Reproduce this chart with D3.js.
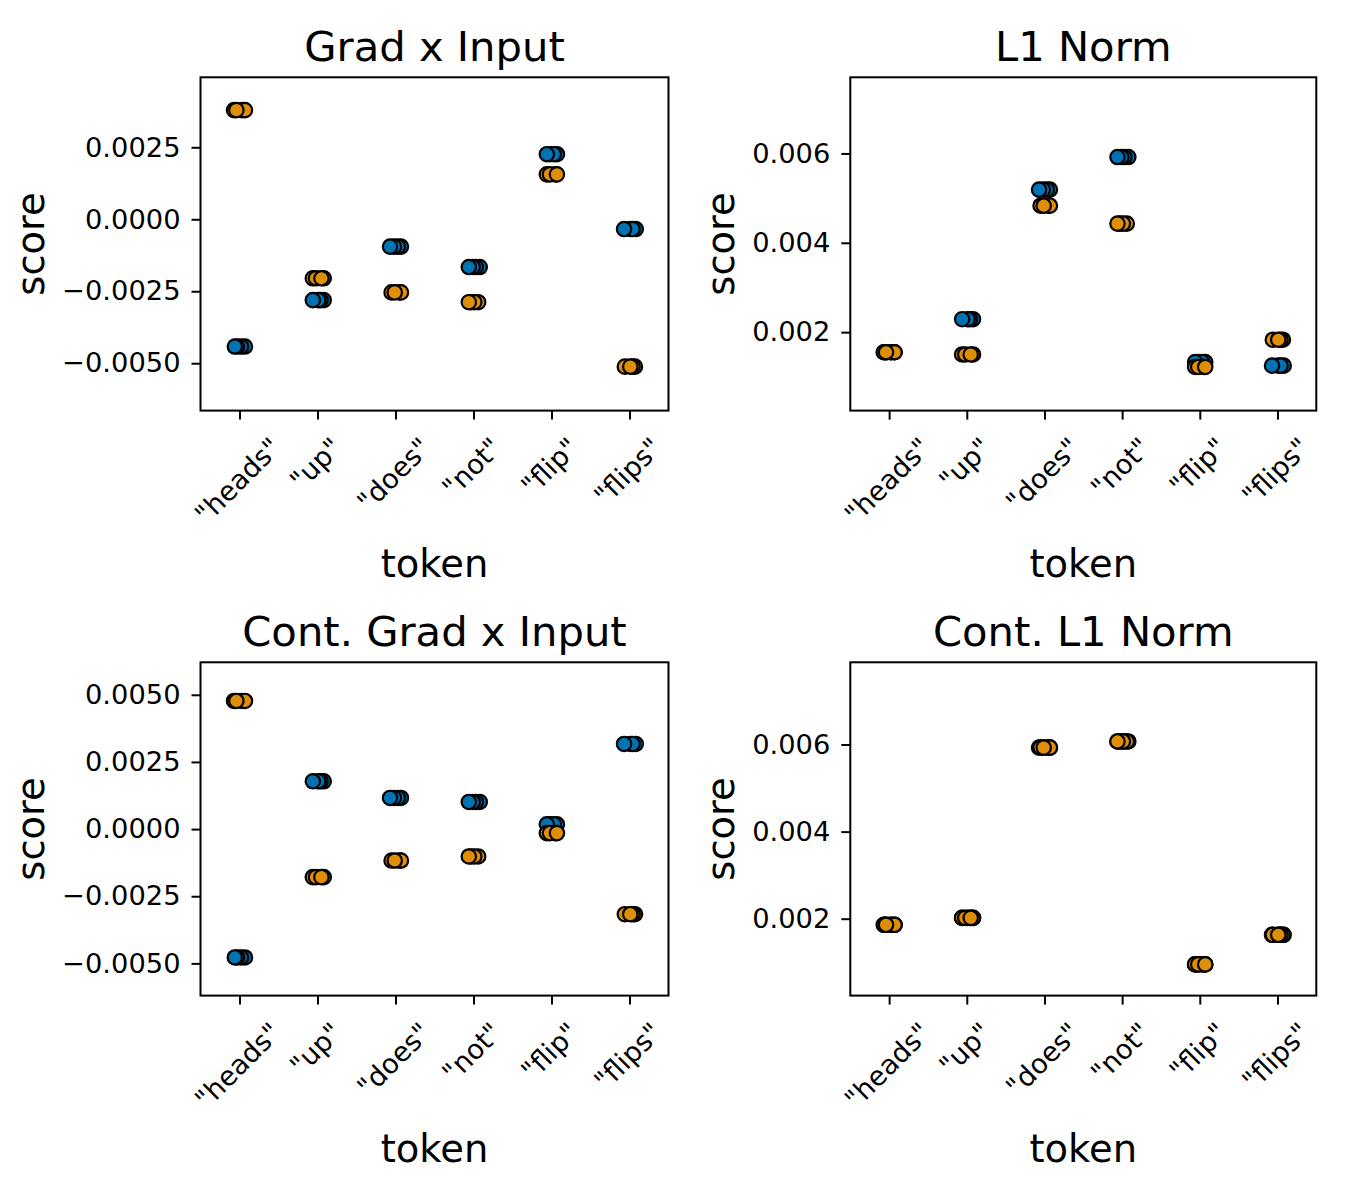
<!DOCTYPE html>
<html>
<head>
<meta charset="utf-8">
<script src="https://cdn.jsdelivr.net/npm/d3@7"></script>
<style>
  html, body { margin: 0; padding: 0; background: #fff; }
  svg { display: block; font-family: "DejaVu Sans", sans-serif; }
</style>
</head>
<body>
<svg id="chart" width="1350" height="1200"></svg>
<script>
// ---- data ----
const TOKENS = ['"heads"', '"up"', '"does"', '"not"', '"flip"', '"flips"'];

const GRAD_INPUT_BLUE = [-0.00442, -0.00281, -0.00095, -0.00166, 0.00226, -0.00034];
const GRAD_INPUT_ORANGE = [0.00379, -0.00205, -0.00254, -0.00288, 0.00156, -0.00512];
const GRAD_INPUT_YLIM = [-0.006646, 0.004931];
const GRAD_INPUT_TICKS = [-0.005, -0.0025, 0, 0.0025];

const L1_BLUE = [0.00155, 0.00229, 0.00519, 0.00592, 0.00133, 0.00125];
const L1_ORANGE = [0.00155, 0.00150, 0.00483, 0.00443, 0.00122, 0.00183];
const L1_YLIM = [0.000244, 0.007704];
const L1_TICKS = [0.002, 0.004, 0.006];

const CONT_GRAD_BLUE = [-0.00478, 0.00178, 0.00116, 0.00101, 0.00018, 0.00317];
const CONT_GRAD_ORANGE = [0.00477, -0.00179, -0.00117, -0.00102, -0.00015, -0.00317];
const CONT_GRAD_YLIM = [-0.0062, 0.00621];
const CONT_GRAD_TICKS = [-0.005, -0.0025, 0, 0.0025, 0.005];

const CONT_L1_BLUE = [0.00186, 0.00202, 0.00593, 0.00607, 0.00095, 0.00163];
const CONT_L1_ORANGE = [0.00186, 0.00202, 0.00593, 0.00607, 0.00095, 0.00163];
const CONT_L1_YLIM = [0.000234, 0.007888];
const CONT_L1_TICKS = [0.002, 0.004, 0.006];

// horizontal strip jitter per run, in category units
const JITTER_BLUE = [
  [0.07, 0.02, -0.03, -0.06],
  [0.08, 0.04, 0.01, -0.06],
  [0.07, 0.03, -0.02, -0.07],
  [0.08, 0.03, -0.01, -0.06],
  [0.07, -0.02, 0.03, -0.06],
  [0.08, 0.01, 0.04, -0.07],
];
const JITTER_ORANGE = [
  [-0.07, 0.03, 0.07, -0.04],
  [-0.06, -0.02, 0.08, 0.05],
  [0.05, 0.07, -0.05, -0.01],
  [0.06, -0.03, 0.01, -0.06],
  [-0.06, 0.05, -0.02, 0.07],
  [0.07, -0.06, 0.04, 0.01],
];

// ---- styling / layout ----
const BLUE = "#0173b2";
const ORANGE = "#de8f05";
const TICK_FONT = 27.3;
const LABEL_FONT = 38.5;
const TITLE_FONT = 41.7;

const panels = [
  { title: "Grad x Input", blue: GRAD_INPUT_BLUE, orange: GRAD_INPUT_ORANGE,
    ylim: GRAD_INPUT_YLIM, ticks: GRAD_INPUT_TICKS, fmt: d3.format(".4f"),
    x: 200.5, y: 77.3, w: 468, h: 333.3 },
  { title: "L1 Norm", blue: L1_BLUE, orange: L1_ORANGE,
    ylim: L1_YLIM, ticks: L1_TICKS, fmt: d3.format(".3f"),
    x: 850.3, y: 77.3, w: 466, h: 333.3 },
  { title: "Cont. Grad x Input", blue: CONT_GRAD_BLUE, orange: CONT_GRAD_ORANGE,
    ylim: CONT_GRAD_YLIM, ticks: CONT_GRAD_TICKS, fmt: d3.format(".4f"),
    x: 200.5, y: 662.3, w: 468, h: 333.3 },
  { title: "Cont. L1 Norm", blue: CONT_L1_BLUE, orange: CONT_L1_ORANGE,
    ylim: CONT_L1_YLIM, ticks: CONT_L1_TICKS, fmt: d3.format(".3f"),
    x: 850.3, y: 662.3, w: 466, h: 333.3 },
];

const svg = d3.select("#chart");

function drawPanel(p) {
  const g = svg.append("g").attr("transform", `translate(${p.x},${p.y})`);

  const x = d3.scalePoint().domain(TOKENS).range([0, p.w]).padding(0.5);
  const step = x.step();
  const y = d3.scaleLinear().domain(p.ylim).range([p.h, 0]);

  // points: blue hue first, orange on top
  const pts = [];
  [[p.blue, JITTER_BLUE, BLUE], [p.orange, JITTER_ORANGE, ORANGE]].forEach(([vals, jit, color]) => {
    TOKENS.forEach((t, i) => {
      jit[i].forEach((j) => pts.push({ token: t, value: vals[i], jitter: j, color }));
    });
  });

  g.append("g")
    .selectAll("circle")
    .data(pts)
    .enter()
    .append("circle")
    .attr("cx", (d) => x(d.token) + d.jitter * step)
    .attr("cy", (d) => y(d.value))
    .attr("r", 7.2)
    .attr("fill", (d) => d.color)
    .attr("stroke", "#000")
    .attr("stroke-width", 2.2);

  // y axis
  const yAxis = g.append("g")
    .call(d3.axisLeft(y).tickValues(p.ticks).tickFormat(p.fmt).tickSize(9).tickPadding(11));
  yAxis.select(".domain").remove();
  yAxis.selectAll(".tick line").attr("stroke", "#000").attr("stroke-width", 2);
  yAxis.selectAll(".tick text")
    .attr("fill", "#000")
    .style("font-size", `${TICK_FONT}px`)
    .style("font-family", '"DejaVu Sans", sans-serif');

  // x axis ticks
  const xAxis = g.append("g")
    .attr("transform", `translate(0,${p.h})`)
    .call(d3.axisBottom(x).tickSize(9).tickFormat(""));
  xAxis.select(".domain").remove();
  xAxis.selectAll(".tick line").attr("stroke", "#000").attr("stroke-width", 2);

  // rotated x tick labels, centred like matplotlib rotation=45
  const labelTop = p.h + 24;
  TOKENS.forEach((t) => {
    const txt = g.append("text")
      .attr("text-anchor", "middle")
      .attr("dy", "0.26em")
      .style("font-size", `${TICK_FONT}px`)
      .attr("fill", "#000")
      .text(t);
    const w = txt.node().getComputedTextLength();
    const half = (w + TICK_FONT) * Math.SQRT1_2 / 2;
    txt.attr("transform", `translate(${x(t)},${labelTop + half}) rotate(-45)`);
  });

  // frame
  g.append("rect")
    .attr("width", p.w)
    .attr("height", p.h)
    .attr("fill", "none")
    .attr("stroke", "#000")
    .attr("stroke-width", 2);

  // title
  g.append("text")
    .attr("x", p.w / 2)
    .attr("y", -16)
    .attr("text-anchor", "middle")
    .style("font-size", `${TITLE_FONT}px`)
    .attr("fill", "#000")
    .text(p.title);

  // x label
  g.append("text")
    .attr("x", p.w / 2)
    .attr("y", p.h + 166)
    .attr("text-anchor", "middle")
    .style("font-size", `${LABEL_FONT}px`)
    .attr("fill", "#000")
    .text("token");

  // y label, placed left of tick labels
  const bb = yAxis.node().getBBox();
  g.append("text")
    .attr("transform", `translate(${bb.x - 18},${p.h / 2}) rotate(-90)`)
    .attr("text-anchor", "middle")
    .style("font-size", `${LABEL_FONT}px`)
    .attr("fill", "#000")
    .text("score");
}

panels.forEach(drawPanel);
</script>
</body>
</html>
